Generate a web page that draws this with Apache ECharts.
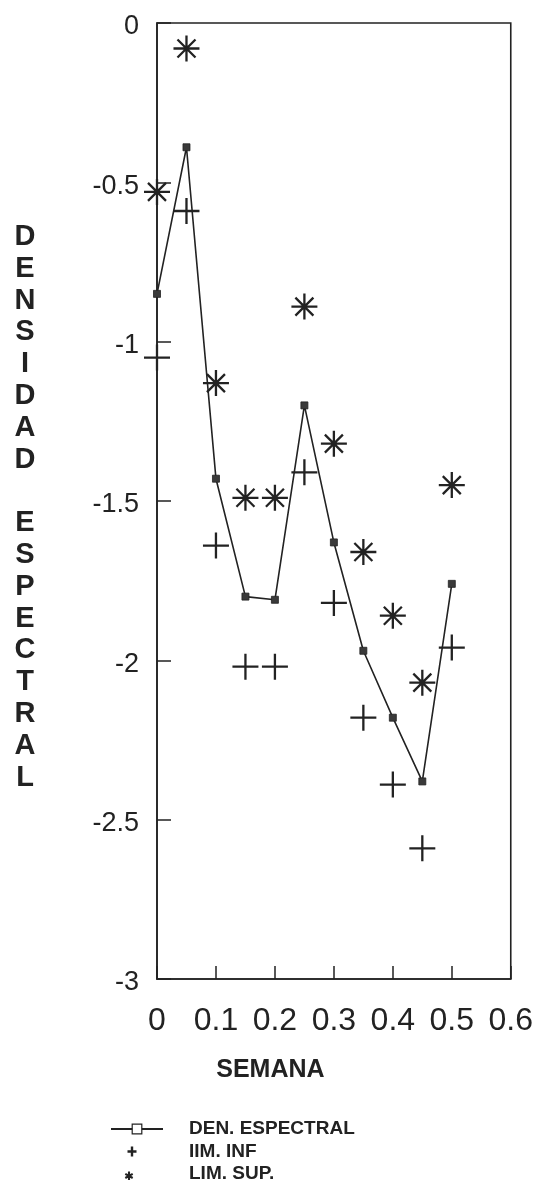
<!DOCTYPE html>
<html>
<head>
<meta charset="utf-8">
<script src="https://cdn.jsdelivr.net/npm/echarts@6/dist/echarts.min.js"></script>
<style>
html,body{margin:0;padding:0;background:#fff;}
#chart{width:536px;height:1193px;}
</style>
</head>
<body>
<div id="chart"></div>
<script>
// ---- data ----
var semanas = [0, 0.05, 0.1, 0.15, 0.2, 0.25, 0.3, 0.35, 0.4, 0.45, 0.5];
var denEspectral = [-0.85, -0.39, -1.43, -1.80, -1.81, -1.20, -1.63, -1.97, -2.18, -2.38, -1.76];
var limInf = [-1.05, -0.59, -1.64, -2.02, -2.02, -1.41, -1.82, -2.18, -2.39, -2.59, -1.96];
var limSup = [-0.53, -0.08, -1.13, -1.49, -1.49, -0.89, -1.32, -1.66, -1.86, -2.07, -1.45];
var xTicks = [0, 0.1, 0.2, 0.3, 0.4, 0.5, 0.6];
var yTicks = [0, -0.5, -1, -1.5, -2, -2.5, -3];
var seriesNames = ['DEN. ESPECTRAL', 'IIM. INF', 'LIM. SUP.'];
var xTitle = 'SEMANA';
var yTitle = 'DENSIDAD ESPECTRAL';

// ---- symbol builders (style only) ----
function barsPath(segs, t, box) {
  var d = '';
  segs.forEach(function (s) {
    var dx = s[2] - s[0], dy = s[3] - s[1];
    var len = Math.sqrt(dx * dx + dy * dy);
    var nx = -dy / len * t, ny = dx / len * t;
    var p = [
      [s[0] + nx, s[1] + ny], [s[2] + nx, s[3] + ny],
      [s[2] - nx, s[3] - ny], [s[0] - nx, s[1] - ny]
    ];
    d += 'M' + p[0][0].toFixed(2) + ',' + p[0][1].toFixed(2);
    for (var i = 1; i < 4; i++) d += ' L' + p[i][0].toFixed(2) + ',' + p[i][1].toFixed(2);
    d += ' Z ';
  });
  if (box) d += 'M0,0 L0,0 Z M' + box[0] + ',' + box[1] + ' L' + box[0] + ',' + box[1] + ' Z';
  return 'path://' + d;
}
var plusSym = barsPath([[0, 13, 26, 13], [13, 0, 13, 26]], 1.15);
var starSym = barsPath([[0, 13, 26, 13], [13, 0, 13, 26], [4, 4, 22, 22], [4, 22, 22, 4]], 1.15);
// legend icons drawn in a 52x12 icon box
var plusIcon = barsPath([[16.5, 6, 25.5, 6], [21, 1, 21, 11]], 1.2, [52, 12]);
var starIcon = barsPath([[18, 3.6, 18, 12], [14.3, 5.8, 21.7, 10.0], [14.3, 10.0, 21.7, 5.8]], 1.05, [52, 12]);

function pairs(xs, ys) { return xs.map(function (x, i) { return [x, ys[i]]; }); }

var ink = '#222';
var font = '"Liberation Sans", Arial, Helvetica, sans-serif';

var chart = echarts.init(document.getElementById('chart'), null, { renderer: 'canvas' });
chart.setOption({
  backgroundColor: '#fff',
  animation: false,
  title: {
    text: yTitle.split('').join('\n').replace('\n \n', '\n\n'),
    left: 20, top: 216, padding: 5,
    textAlign: 'center',
    textStyle: { color: ink, fontSize: 29, fontWeight: 'bold', fontFamily: font, lineHeight: 31.8 }
  },
  grid: {
    left: 157, right: 22, top: 23, bottom: 214,
    show: true, borderColor: ink, borderWidth: 1.6, backgroundColor: 'transparent'
  },
  xAxis: {
    type: 'value', min: xTicks[0], max: xTicks[xTicks.length - 1], interval: 0.1,
    axisLine: { show: true, onZero: false, lineStyle: { color: ink, width: 1.6 } },
    axisTick: { show: true, inside: true, length: 13, lineStyle: { color: ink, width: 1.5 } },
    splitLine: { show: false },
    axisLabel: {
      margin: 26, color: ink, fontSize: 32, fontFamily: font,
      formatter: function (v) { return String(+v.toFixed(1)); }
    },
    name: xTitle, nameLocation: 'middle', nameGap: 79,
    nameTextStyle: { color: ink, fontSize: 25, fontWeight: 'bold', fontFamily: font, padding: [0, 127, 0, 0] }
  },
  yAxis: {
    type: 'value', min: yTicks[yTicks.length - 1], max: yTicks[0], interval: 0.5,
    axisLine: { show: true, onZero: false, lineStyle: { color: ink, width: 1.6 } },
    axisTick: { show: true, inside: true, length: 14, lineStyle: { color: ink, width: 1.5 } },
    splitLine: { show: false },
    axisLabel: {
      margin: 18, color: ink, fontSize: 27, fontFamily: font,
      verticalAlign: 'top', lineHeight: 8,
      formatter: function (v) { return String(+v.toFixed(1)); }
    }
  },
  legend: {
    orient: 'vertical', left: 105, top: 1113,
    itemWidth: 52, itemHeight: 12, itemGap: 0.5,
    textStyle: { color: ink, fontSize: 19, fontWeight: 'bold', fontFamily: font, lineHeight: 22, padding: [0, 0, 0, 21] },
    data: [
      { name: seriesNames[0], itemStyle: { color: '#fff', borderColor: ink, borderWidth: 1.2 } },
      { name: seriesNames[1], icon: plusIcon },
      { name: seriesNames[2], icon: starIcon }
    ]
  },
  series: [
    {
      name: seriesNames[0], type: 'line', data: pairs(semanas, denEspectral),
      symbol: 'rect', symbolSize: 7, z: 3,
      lineStyle: { color: ink, width: 1.6 },
      itemStyle: { color: '#3a3a3a', borderColor: ink, borderWidth: 0.8 }
    },
    {
      name: seriesNames[1], type: 'scatter', data: pairs(semanas, limInf),
      symbol: plusSym, symbolSize: 26, symbolKeepAspect: true, z: 2,
      itemStyle: { color: ink, opacity: 1 }
    },
    {
      name: seriesNames[2], type: 'scatter', data: pairs(semanas, limSup),
      symbol: starSym, symbolSize: 26, symbolKeepAspect: true, z: 2,
      itemStyle: { color: ink, opacity: 1 }
    }
  ]
});
</script>
</body>
</html>
